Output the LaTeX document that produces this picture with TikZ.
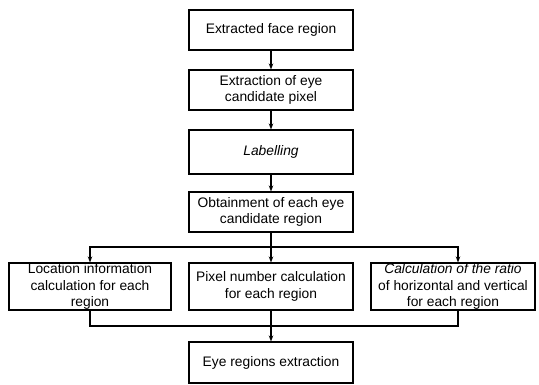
\documentclass[tikz,border=0pt]{standalone}
\usepackage{fontspec}
\setmainfont{Liberation Sans}
\usetikzlibrary{arrows.meta}
\begin{document}
\begin{tikzpicture}[x=1pt,y=-1pt,
  box/.style={draw=black,line width=1.1pt,rectangle,inner sep=0pt,align=center,
    font=\fontsize{13.8}{16.5}\selectfont,text=black},
  topbox/.style={box,minimum width=164pt,minimum height=40pt},
  conn/.style={line width=1.1pt,draw=black},
  arr/.style={conn,-{Stealth[length=6pt,width=4.5pt]}}]
\useasboundingbox (0,0) rectangle (539,384);
\node[topbox] (b1) at (271,30) {Extracted face region};
\node[topbox] (b2) at (271,90) {Extraction of eye\\candidate pixel};
\node[topbox,minimum height=44pt] (b3) at (271,152) {\itshape Labelling};
\node[topbox] (b4) at (271,212) {Obtainment of each eye\\candidate region};
\node[box,minimum width=162pt,minimum height=47pt] (l) at (90,286.5) {Location information\\calculation for each\\region};
\node[box,minimum width=164pt,minimum height=47pt] (m) at (271,286.5) {Pixel number calculation\\for each region};
\node[box,minimum width=164pt,minimum height=47pt] (r) at (453,286.5) {\itshape Calculation of the ratio\\of horizontal and vertical\\for each region};
\node[topbox,minimum height=41pt] (e) at (271,362.5) {Eye regions extraction};
\coordinate (s) at (271,247);
\coordinate (j) at (271,326);
\draw[arr] (b1) -- (b2);
\draw[arr] (b2) -- (b3);
\draw[arr] (b3) -- (b4);
\draw[conn] (b4) -- (s);
\draw[arr] (s) -- (m);
\draw[arr] (s) -| (l.north);
\draw[arr] (s) -| ([xshift=5pt]r.north);
\draw[conn] (l.south) |- (j) -| ([xshift=5pt]r.south);
\draw[arr] (m) -- (e);
\end{tikzpicture}
\end{document}
